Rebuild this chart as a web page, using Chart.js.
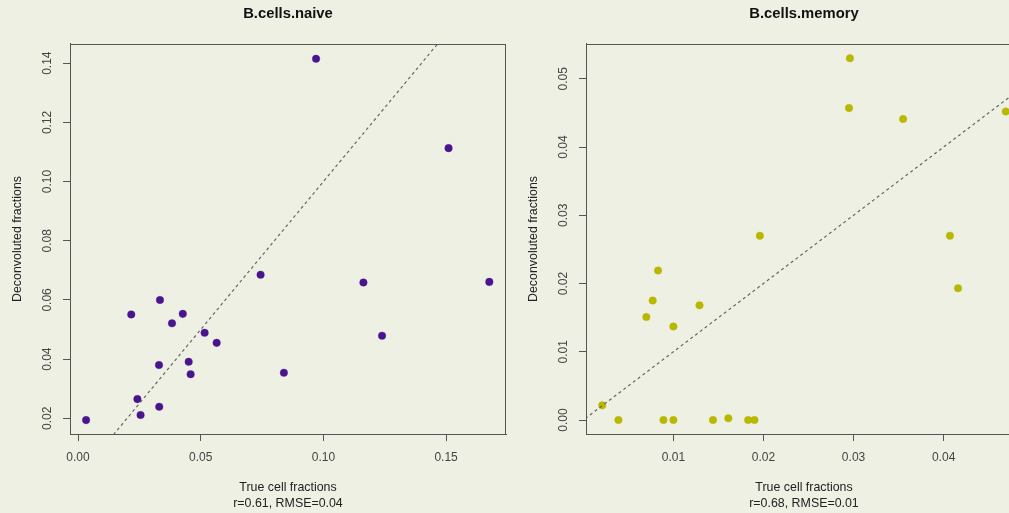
<!DOCTYPE html>
<html>
<head>
<meta charset="utf-8">
<script src="https://cdn.jsdelivr.net/npm/chart.js@4/dist/chart.umd.min.js"></script>
<style>
  html, body { margin: 0; padding: 0; background: #eef0e4; overflow: hidden; width: 1009px; height: 513px; }
  canvas { position: absolute; top: 0; }
  #naive { left: 0; }
  #memory { left: 516px; }
</style>
</head>
<body>
<canvas id="naive" width="515" height="513"></canvas>
<canvas id="memory" width="515" height="513"></canvas>
<script>
// B.cells.naive: true vs deconvoluted fractions
const naiveTrue   = [0.0970, 0.1510, 0.0033, 0.0217, 0.0334, 0.0427, 0.0383, 0.0516, 0.0565, 0.0744,
                     0.1163, 0.1676, 0.1239, 0.0839, 0.0451, 0.0459, 0.0330, 0.0242, 0.0255, 0.0331];
const naiveDeconv = [0.1415, 0.1113, 0.0194, 0.0551, 0.0600, 0.0553, 0.0521, 0.0489, 0.0455, 0.0685,
                     0.0659, 0.0661, 0.0479, 0.0354, 0.0391, 0.0349, 0.0380, 0.0265, 0.0211, 0.0239];
const naiveXLim   = [-0.00326, 0.1744];
const naiveYLim   = [0.0147, 0.1465];
const naiveXTicks = [0, 0.05, 0.10, 0.15];
const naiveYTicks = [0.02, 0.04, 0.06, 0.08, 0.10, 0.12, 0.14];

// B.cells.memory: true vs deconvoluted fractions
const memoryTrue   = [0.0296, 0.0295, 0.0355, 0.0469, 0.0196, 0.0407, 0.0416, 0.0083, 0.0077, 0.0070,
                      0.0129, 0.0100, 0.0021, 0.0039, 0.0089, 0.0100, 0.0144, 0.0161, 0.0183, 0.0190];
const memoryDeconv = [0.0530, 0.0457, 0.0441, 0.0452, 0.0270, 0.0270, 0.0193, 0.0219, 0.0175, 0.0151,
                      0.0168, 0.0137, 0.00215, 0, 0, 0, 0, 0.00025, 0, 0];
const memoryXLim   = [0.0003, 0.0487];
const memoryYLim   = [-0.00205, 0.0551];
const memoryXTicks = [0.01, 0.02, 0.03, 0.04];
const memoryYTicks = [0, 0.01, 0.02, 0.03, 0.04, 0.05];

// y = x reference line end values
const identityEnds = [-1, 1];

const FONT = '"Liberation Sans", Arial, Helvetica, sans-serif';
const AXIS_COLOR = '#555555';
const LABEL_COLOR = '#444444';

// full frame around the plotting region + vertical y tick labels
const framePlugin = {
  id: 'frame',
  afterDraw(chart) {
    const { ctx, chartArea: a } = chart;
    ctx.save();
    ctx.strokeStyle = AXIS_COLOR;
    ctx.lineWidth = 1;
    ctx.strokeRect(Math.round(a.left) + 0.5, Math.round(a.top) + 0.5,
                   Math.round(a.right - a.left) - 1, Math.round(a.bottom - a.top));
    const ys = chart.scales.y;
    ctx.fillStyle = LABEL_COLOR;
    ctx.font = '12px ' + FONT;
    ctx.textAlign = 'center';
    ctx.textBaseline = 'middle';
    ys.ticks.forEach(t => {
      const py = ys.getPixelForValue(t.value);
      ctx.save();
      ctx.translate(a.left - 22.3, py);
      ctx.rotate(-Math.PI / 2);
      ctx.fillText(t.value.toFixed(2), 0, 0);
      ctx.restore();
    });
    ctx.restore();
  }
};

function makePanel(id, title, stats, xs, ys, xLim, yLim, xTicks, yTicks, color, halo) {
  const points = xs.map((x, i) => ({ x: x, y: ys[i] }));
  const diag = identityEnds.map(v => ({ x: v, y: v }));
  return new Chart(document.getElementById(id), {
    type: 'scatter',
    data: {
      datasets: [
        {
          type: 'line',
          data: diag,
          borderColor: '#666666',
          borderWidth: 1.2,
          borderDash: [3, 3],
          pointRadius: 0,
          fill: false
        },
        {
          data: points,
          backgroundColor: color,
          borderColor: halo,
          borderWidth: 1,
          pointRadius: 3.8
        }
      ]
    },
    options: {
      responsive: false,
      animation: false,
      devicePixelRatio: 1,
      layout: { padding: { top: 0, right: 9, bottom: 0, left: 0 } },
      plugins: {
        legend: { display: false },
        tooltip: { enabled: false },
        title: {
          display: true,
          text: title,
          fullSize: false,
          color: '#111111',
          font: { family: FONT, size: 14.8, weight: 'bold', lineHeight: 1.2 },
          padding: { top: 5.1, bottom: 21.1 }
        }
      },
      scales: {
        x: {
          type: 'linear',
          min: xLim[0],
          max: xLim[1],
          afterBuildTicks: s => { s.ticks = xTicks.map(v => ({ value: v })); },
          afterFit: s => { s.height = 79; },
          grid: { drawOnChartArea: false, drawTicks: true, tickLength: 7, color: AXIS_COLOR, lineWidth: 1 },
          border: { display: true, color: AXIS_COLOR, width: 1 },
          ticks: {
            color: LABEL_COLOR,
            font: { family: FONT, size: 12 },
            padding: 9,
            maxRotation: 0,
            autoSkip: false,
            callback: v => Number(v).toFixed(2)
          },
          title: {
            display: true,
            text: ['True cell fractions', stats],
            color: '#222222',
            font: { family: FONT, size: 12.4, lineHeight: '16px' },
            padding: { top: 0, bottom: 1.7 }
          }
        },
        y: {
          type: 'linear',
          min: yLim[0],
          max: yLim[1],
          afterBuildTicks: s => { s.ticks = yTicks.map(v => ({ value: v })); },
          afterFit: s => { s.width = 70; },
          grid: { drawOnChartArea: false, drawTicks: true, tickLength: 7, color: AXIS_COLOR, lineWidth: 1 },
          border: { display: true, color: AXIS_COLOR, width: 1 },
          ticks: { display: false },
          title: {
            display: true,
            text: 'Deconvoluted fractions',
            color: '#222222',
            font: { family: FONT, size: 12.4, lineHeight: '15px' },
            padding: { top: 9.8, bottom: 0 }
          }
        }
      }
    },
    plugins: [framePlugin]
  });
}

makePanel('naive', 'B.cells.naive', 'r=0.61, RMSE=0.04',
  naiveTrue, naiveDeconv, naiveXLim, naiveYLim, naiveXTicks, naiveYTicks,
  '#4a1490', 'rgba(74,20,144,0.35)');
makePanel('memory', 'B.cells.memory', 'r=0.68, RMSE=0.01',
  memoryTrue, memoryDeconv, memoryXLim, memoryYLim, memoryXTicks, memoryYTicks,
  '#b8b800', 'rgba(184,184,0,0.35)');
</script>
</body>
</html>
